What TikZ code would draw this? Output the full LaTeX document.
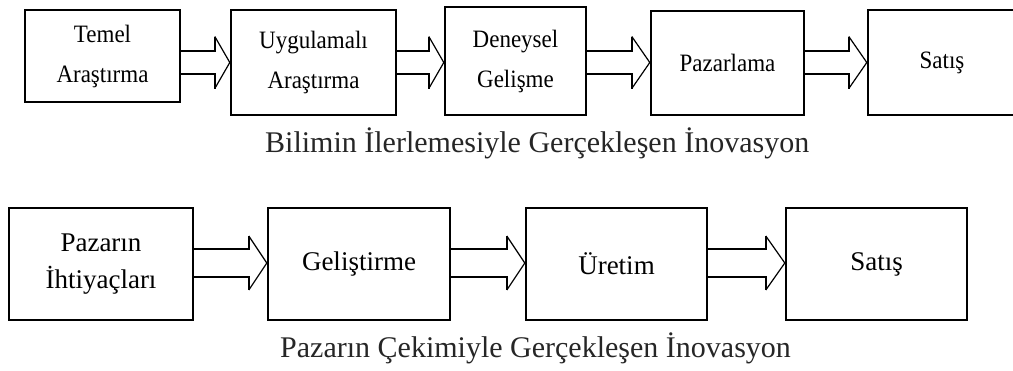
\documentclass[tikz,border=0pt]{standalone}
\usepackage{fontspec}
\setmainfont{Liberation Serif}
\newfontfamily\narrowserif[FakeStretch=0.92]{Liberation Serif}
\usetikzlibrary{calc}

% Hollow block arrow between two boxes:
% #1 source node, #2 target node, #3 axis y, #4 shaft half height,
% #5 head half height, #6 head length
\newcommand{\blockarrow}[6]{%
  \coordinate (s) at (#1.east |- 0,#3);
  \coordinate (t) at (#2.west |- 0,#3);
  \draw[shaftline] ($(s)+(0,-#4)$) -- ($(t)+(-#6,-#4)$) -- ($(t)+(-#6,-#5)$);
  \draw[shaftline] ($(s)+(0,#4)$) -- ($(t)+(-#6,#4)$) -- ($(t)+(-#6,#5)$);
  \draw[headline] ($(t)+(-#6,-#5)$) -- (t) -- ($(t)+(-#6,#5)$);
}

\begin{document}
\begin{tikzpicture}[x=1pt,y=-1pt,
  stage/.style={draw=black, line width=2.4pt, fill=white, rectangle,
    inner sep=0pt, align=center},
  upper/.style={stage, font=\narrowserif\fontsize{25}{40}\selectfont},
  lower/.style={stage, font=\fontsize{27}{37}\selectfont},
  shaftline/.style={line width=2.2pt, line join=miter},
  headline/.style={line width=1.2pt, line join=miter},
  caption/.style={anchor=base west, inner sep=0pt,
    font=\fontsize{30}{36}\selectfont, text=black!85}]

\useasboundingbox (0,0) rectangle (1013,370);

% science push chain
\node[upper, minimum width=155, minimum height=92]  (temel)  at (102.5,56)  {Temel\\Araştırma};
\node[upper, minimum width=165, minimum height=105] (uyg)    at (313.5,62.5) {Uygulamalı\\Araştırma};
\node[upper, minimum width=141, minimum height=108] (deney)  at (515.5,61)  {Deneysel\\Gelişme};
\node[upper, minimum width=153, minimum height=104] (pazarl) at (727.5,63)  {Pazarlama};
\node[upper, minimum width=148, minimum height=105] (satis1) at (942,62.5)  {Satış};

\blockarrow{temel}{uyg}{62.5}{11.5}{26}{15}
\blockarrow{uyg}{deney}{62.5}{11.5}{26}{15}
\blockarrow{deney}{pazarl}{62.5}{11.5}{26}{18}
\blockarrow{pazarl}{satis1}{62.5}{11.5}{26}{18}

\node[caption] (cap1) at (265,152) {Bilimin İlerlemesiyle Gerçekleşen İnovasyon};

% market pull chain
\node[lower, minimum width=184, minimum height=112] (ihtiyac) at (101,264)   {Pazarın\\İhtiyaçları};
\node[lower, minimum width=182, minimum height=112] (gelis)   at (359,264)   {Geliştirme};
\node[lower, minimum width=181, minimum height=112] (uretim)  at (616.5,264) {Üretim};
\node[lower, minimum width=181, minimum height=112] (satis2)  at (876.5,264) {Satış};

\blockarrow{ihtiyac}{gelis}{263}{14}{27}{18}
\blockarrow{gelis}{uretim}{263}{14}{27}{18}
\blockarrow{uretim}{satis2}{263}{14}{27}{19}

\node[caption] (cap2) at (280,357) {Pazarın Çekimiyle Gerçekleşen İnovasyon};

\end{tikzpicture}
\end{document}
